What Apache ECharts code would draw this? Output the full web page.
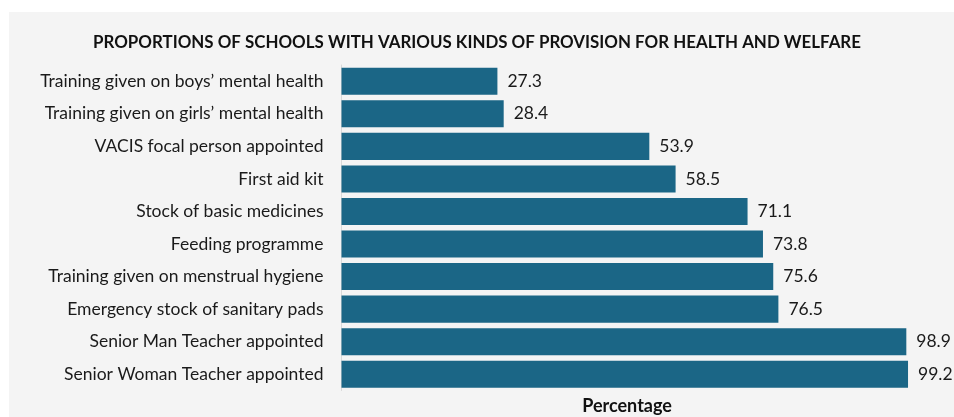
<!DOCTYPE html>
<html>
<head>
<meta charset="utf-8">
<script src="https://cdn.jsdelivr.net/npm/echarts@6/dist/echarts.min.js"></script>
<style>
html,body{margin:0;padding:0;background:#ffffff;}
#chart{width:954px;height:417px;}
</style>
</head>
<body>
<div id="chart"></div>
<script>
const categories = [
  "Training given on boys\u2019 mental health",
  "Training given on girls\u2019 mental health",
  "VACIS focal person appointed",
  "First aid kit",
  "Stock of basic medicines",
  "Feeding programme",
  "Training given on menstrual hygiene",
  "Emergency stock of sanitary pads",
  "Senior Man Teacher appointed",
  "Senior Woman Teacher appointed"
];
const values = [27.3, 28.4, 53.9, 58.5, 71.1, 73.8, 75.6, 76.5, 98.9, 99.2];
const titleText = "PROPORTIONS OF SCHOOLS WITH VARIOUS KINDS OF PROVISION FOR HEALTH AND WELFARE";
const xAxisTitle = "Percentage";

const chart = echarts.init(document.getElementById('chart'), null, {renderer: 'canvas'});
const font = 'Lato';
chart.setOption({
  backgroundColor: '#ffffff',
  animation: false,
  graphic: [{
    type: 'rect', z: -10, silent: true,
    shape: {x: 9, y: 12, width: 945, height: 405},
    style: {fill: '#f4f4f4'}
  }],
  title: {
    text: titleText,
    left: 'center',
    top: 29,
    textStyle: {fontFamily: font, fontWeight: 'bold', fontSize: 16.9, color: '#111111'}
  },
  grid: {left: 341.5, right: 41.4, top: 65, bottom: 26.5, containLabel: false, outerBoundsMode: 'none'},
  xAxis: {
    type: 'value', min: 0, max: 100,
    axisLabel: {show: false}, splitLine: {show: false}, axisLine: {show: false}, axisTick: {show: false},
    name: xAxisTitle, nameLocation: 'middle', nameGap: 7,
    nameTextStyle: {fontFamily: font, fontWeight: 'bold', fontSize: 18, color: '#111111', verticalAlign: 'top'}
  },
  yAxis: {
    type: 'category', data: categories, inverse: true,
    axisLine: {show: true, lineStyle: {color: '#d9d9d9', width: 1}},
    axisTick: {show: false},
    axisLabel: {fontFamily: font, fontSize: 17.5, color: '#1a1a1a', margin: 18}
  },
  series: [{
    type: 'bar', data: values, barCategoryGap: '17%',
    itemStyle: {color: '#1b6686'},
    label: {show: true, position: 'right', distance: 10, fontFamily: font, fontSize: 17.5, color: '#1a1a1a'}
  }]
});
</script>
</body>
</html>
